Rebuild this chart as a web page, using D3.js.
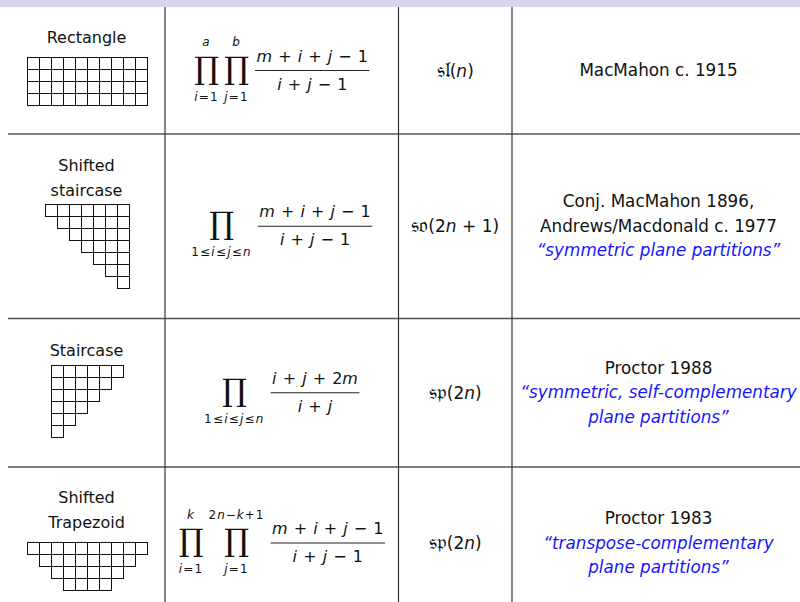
<!DOCTYPE html><html><head><meta charset="UTF-8"><script src="https://d3js.org/d3.v7.min.js"></script><style>
body { margin: 0; background: #fff; }
svg { display: block; }
.txt { font-family: "DejaVu Sans", sans-serif; fill: #111; }
.note { fill: #1414ff; font-style: italic; }
.math { font-family: "DejaVu Sans", sans-serif; fill: #111; }
.op { font-family: "DejaVu Serif", serif; fill: #111; }
</style></head><body><div id="chart"></div><script>
// table content, one entry per row
const shapeLabels = [["Rectangle"], ["Shifted", "staircase"], ["Staircase"], ["Shifted", "Trapezoid"]];
// boxes of each diagram: first column and length of every row
const shapeRowStarts = [[0, 0, 0, 0], [0, 1, 2, 3, 4, 5, 6], [0, 0, 0, 0, 0, 0], [0, 1, 2, 3]];
const shapeRowLengths = [[10, 10, 10, 10], [7, 6, 5, 4, 3, 2, 1], [6, 5, 4, 3, 2, 1], [10, 8, 6, 4]];
const productUpper = [["a", "b"], [""], [""], ["k", "2n−k+1"]];
const productLower = [["i=1", "j=1"], ["1≤i≤j≤n"], ["1≤i≤j≤n"], ["i=1", "j=1"]];
const numerators = ["m + i + j − 1", "m + i + j − 1", "i + j + 2m", "m + i + j − 1"];
const denominators = ["i + j − 1", "i + j − 1", "i + j", "i + j − 1"];
const groupNames = ["𝔰𝔩", "𝔰𝔬", "𝔰𝔭", "𝔰𝔭"];
const groupArgs = ["n", "2n + 1", "2n", "2n"];
const credits = [["MacMahon c. 1915"], ["Conj. MacMahon 1896,", "Andrews/Macdonald c. 1977"], ["Proctor 1988"], ["Proctor 1983"]];
const notes = [[], ["“symmetric plane partitions”"], ["“symmetric, self-complementary", "plane partitions”"], ["“transpose-complementary", "plane partitions”"]];

const W = 800, H = 602;
const colEdges = [8, 165, 398.5, 512, 805];
const rowEdges = [7, 134, 318.5, 467, 619];

const svg = d3.select('#chart').append('svg')
    .attr('width', W)
    .attr('height', H);

svg.append('rect')
    .attr('x', 0).attr('y', 0)
    .attr('width', W).attr('height', 7)
    .attr('fill', '#d5d5ef');

const rowMid = d3.range(4).map(i => (rowEdges[i] + rowEdges[i + 1]) / 2);
const colMid = d3.range(4).map(i => (colEdges[i] + colEdges[i + 1]) / 2);

// grid lines of the table
svg.selectAll('.hline')
    .data(rowEdges.slice(1, 4))
    .enter().append('line')
    .attr('x1', colEdges[0]).attr('x2', W)
    .attr('y1', d => d).attr('y2', d => d)
    .attr('stroke', '#555').attr('stroke-width', 1.4);

svg.selectAll('.vline')
    .data(colEdges.slice(1, 4))
    .enter().append('line')
    .attr('x1', d => d).attr('x2', d => d)
    .attr('y1', 7).attr('y2', H)
    .attr('stroke', '#333').attr('stroke-width', 1.2);

// math helper: latin letters italic, the rest upright
function fillMath(t, str) {
    (str.match(/[a-z]+|[^a-z]+/g) || []).forEach(tok => {
        t.append('tspan').text(tok).style('font-style', /[a-z]/.test(tok) ? 'italic' : 'normal');
    });
    return t;
}
function addMath(parent, str, size) {
    const t = parent.append('text').attr('class', 'math').style('font-size', size + 'px');
    return fillMath(t, str);
}

// column 1: label + Young diagram
const cell = d3.scaleLinear().domain([0, 1]).range([0, 12]);
shapeLabels.forEach((lines, r) => {
    const g = svg.append('g');
    const lineH = 24.5;
    const last = lines[lines.length - 1];
    const gap = /[gpqyj]/.test(last) ? 14 : 8.5;
    const nRows = shapeRowLengths[r].length;
    const blockH = 12 + (lines.length - 1) * lineH + gap + cell(nRows);
    const top = rowMid[r] - 2.5 - blockH / 2;
    lines.forEach((s, k) => {
        g.append('text').attr('class', 'txt')
            .attr('x', colMid[0]).attr('y', top + 12 + k * lineH)
            .attr('text-anchor', 'middle')
            .style('font-size', '16px')
            .text(s);
    });
    const gy = Math.round(top + 12 + (lines.length - 1) * lineH + gap) + 0.5;
    const nCols = d3.max(shapeRowLengths[r], (len, i) => shapeRowStarts[r][i] + len);
    const gx = Math.round(colMid[0] - cell(nCols) / 2) + 0.5;
    const boxes = [];
    shapeRowLengths[r].forEach((len, i) => {
        d3.range(len).forEach(c => boxes.push({ row: i, col: shapeRowStarts[r][i] + c }));
    });
    g.selectAll('rect').data(boxes).enter().append('rect')
        .attr('x', d => gx + cell(d.col))
        .attr('y', d => gy + cell(d.row))
        .attr('width', cell(1)).attr('height', cell(1))
        .attr('fill', 'none').attr('stroke', '#111').attr('stroke-width', 1);
});

// column 2: product formulas
numerators.forEach((num, r) => {
    const g = svg.append('g');
    const y0 = rowMid[r];
    const slots = productLower[r].map((lo, k) => {
        const op = g.append('text').attr('class', 'op')
            .attr('text-anchor', 'middle').style('font-size', '31px')
            .attr('y', y0 + 8).text('∏');
        const up = addMath(g, productUpper[r][k], 12).attr('text-anchor', 'middle')
            .style('letter-spacing', '1px').attr('y', y0 - 24.5);
        const low = addMath(g, lo, 12).attr('text-anchor', 'middle')
            .style('letter-spacing', '1.2px').attr('y', y0 + 30);
        const w = Math.max(25, up.node().getComputedTextLength(), low.node().getComputedTextLength());
        return { op, up, low, w };
    });
    const nt = addMath(g, num, 16).attr('text-anchor', 'middle').style('word-spacing', '1px').attr('y', y0 - 9);
    const dt = addMath(g, denominators[r], 16).attr('text-anchor', 'middle').style('word-spacing', '1px').attr('y', y0 + 19);
    const barW = Math.max(nt.node().getComputedTextLength(), dt.node().getComputedTextLength()) + 3;
    const total = d3.sum(slots, s => s.w) + 5 * (slots.length - 1) + 6 + barW;
    let x = colMid[1] - total / 2;
    slots.forEach(s => {
        const cx = x + s.w / 2;
        s.op.attr('x', cx); s.up.attr('x', cx); s.low.attr('x', cx);
        x += s.w + 5;
    });
    x += 1;
    nt.attr('x', x + barW / 2);
    dt.attr('x', x + barW / 2);
    g.append('line')
        .attr('x1', x).attr('x2', x + barW)
        .attr('y1', y0).attr('y2', y0)
        .attr('stroke', '#222').attr('stroke-width', 1.1);
});

// column 3: Lie algebra
groupNames.forEach((name, r) => {
    const t = svg.append('text').attr('class', 'math')
        .attr('x', colMid[2]).attr('y', rowMid[r] + 6)
        .attr('text-anchor', 'middle').style('font-size', '17px');
    t.append('tspan').style('font-family', '"DejaVu Serif", serif').style('font-size', '21px').text(name);
    t.append('tspan').text('(');
    fillMath(t, groupArgs[r]);
    t.append('tspan').text(')');
});

// column 4: credits and names
credits.forEach((lines, r) => {
    const all = lines.map(s => ({ s, note: false })).concat(notes[r].map(s => ({ s, note: true })));
    const lineH = 24.7;
    all.forEach((d, k) => {
        svg.append('text')
            .attr('class', d.note ? 'txt note' : 'txt')
            .attr('x', colMid[3])
            .attr('y', rowMid[r] + 5.5 + (k - (all.length - 1) / 2) * lineH)
            .attr('text-anchor', 'middle')
            .style('font-size', '16.8px')
            .text(d.s);
    });
});
</script></body></html>
